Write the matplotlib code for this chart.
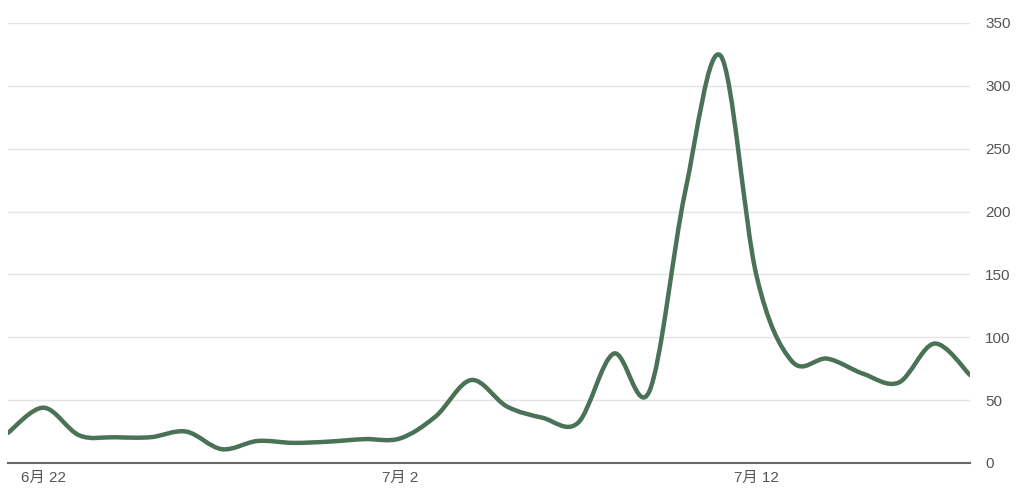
import numpy as np
import pandas as pd
import matplotlib
matplotlib.use("Agg")
import matplotlib.pyplot as plt
import matplotlib.dates as mdates
from matplotlib.path import Path
from matplotlib.patches import PathPatch

plt.rcParams['font.family'] = ['Liberation Sans', 'Noto Sans CJK SC', 'DejaVu Sans']

start_date = "2024-06-21"
values = [24, 44, 22, 20.5, 20.5, 25, 11, 17.5, 16, 17, 19, 19.5, 37, 66,
          45, 36, 32, 87, 57, 215, 324, 150, 81, 83, 71, 64, 95, 70]
tick_dates = ["2024-06-22", "2024-07-02", "2024-07-12"]
tick_labels = ["6月 22", "7月 2", "7月 12"]
y_ticks = [0, 50, 100, 150, 200, 250, 300, 350]

line_color = "#4a7256"
text_color = "#555555"

dates = pd.date_range(start_date, periods=len(values), freq="D")
x = mdates.date2num(dates)
y = np.array(values, dtype=float)

# smooth line like the original: catmull-rom segments as cubic beziers
pts = np.column_stack([x, y])
ext = np.vstack([pts[0], pts, pts[-1]])
verts = [pts[0]]
codes = [Path.MOVETO]
for i in range(len(pts) - 1):
    p0, p1, p2, p3 = ext[i], ext[i + 1], ext[i + 2], ext[i + 3]
    c1 = p1 + (p2 - p0) / 6.0
    c2 = p2 - (p3 - p1) / 6.0
    verts += [c1, c2, p2]
    codes += [Path.CURVE4] * 3

fig = plt.figure(figsize=(10.24, 4.91), dpi=100)
ax = fig.add_axes([8 / 1024, 28 / 491, 962 / 1024, 440 / 491])

ax.add_patch(PathPatch(Path(verts, codes), facecolor="none", edgecolor=line_color,
                       linewidth=3.2, capstyle="round", joinstyle="round", zorder=3))

ax.set_xlim(x[0], x[-1])
ax.set_ylim(0, 350)

ax.set_yticks(y_ticks)
ax.yaxis.tick_right()
ax.tick_params(axis="y", length=0, pad=11, labelsize=11, labelcolor=text_color)
for lbl in ax.get_yticklabels():
    lbl.set_horizontalalignment("left")

ax.set_xticks(mdates.date2num(pd.to_datetime(tick_dates)))
ax.set_xticklabels(tick_labels)
ax.tick_params(axis="x", length=0, pad=6, labelsize=11, labelcolor=text_color)

ax.grid(axis="y", color="#e4e4e4", linewidth=1)
ax.set_axisbelow(True)
for s in ["top", "right", "left"]:
    ax.spines[s].set_visible(False)
ax.spines["bottom"].set_color("#666666")
ax.spines["bottom"].set_linewidth(1.5)

fig.savefig("out.png", dpi=100)
